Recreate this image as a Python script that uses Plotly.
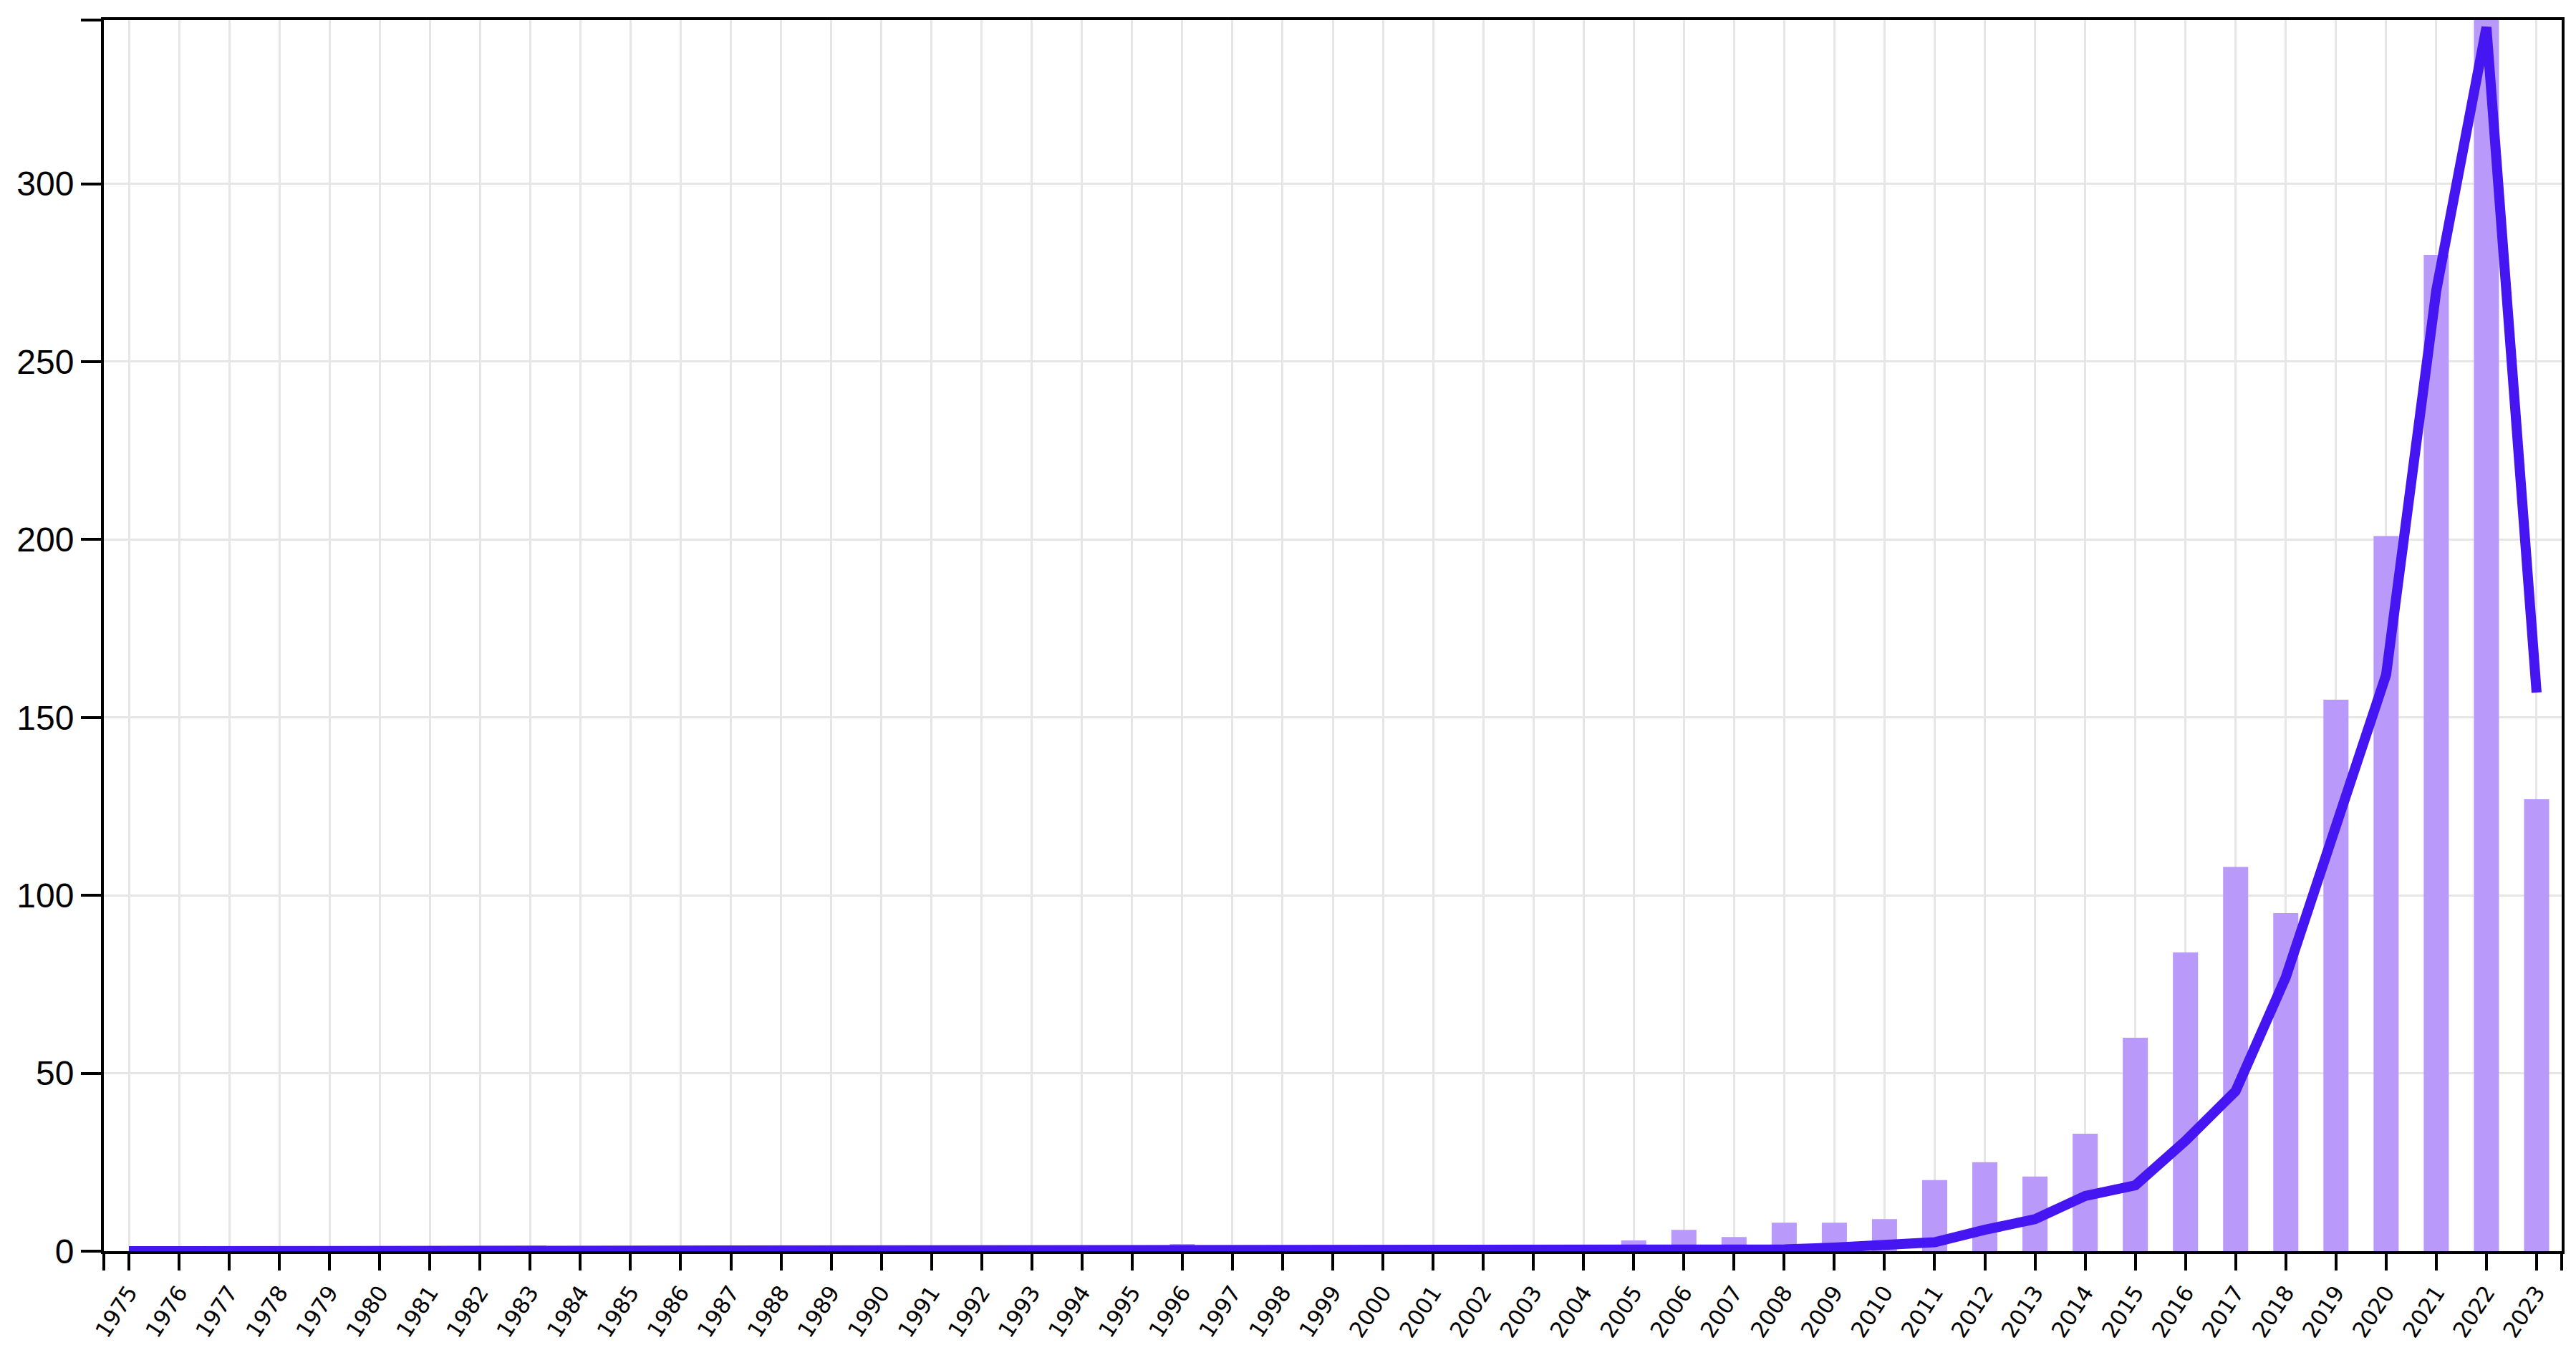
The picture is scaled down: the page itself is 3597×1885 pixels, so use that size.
import plotly.graph_objects as go

years = list(range(1975, 2024))

# publications per year (bars)
bar_counts = [0] * 21 + [2] + [0] * 8 + [3, 6, 4, 8, 8, 9, 20, 25, 21, 33, 60, 84,
                                         108, 95, 155, 201, 280, 346, 127]

# trend line
trend = [0] * 25 + [0.4] + [0] * 4 + [0.2, 0.3, 0.2, 0.5, 1.0, 1.4, 2.5, 6, 9, 15.5,
                                      18.5, 31, 45, 77, 120, 162, 270, 344, 157]

y_ticks = [0, 50, 100, 150, 200, 250, 300]
y_max = 346

BAR_COLOR = "#b99afb"
LINE_COLOR = "#4516f2"
GRID = "#e6e6e6"

fig = go.Figure()
fig.add_trace(go.Bar(x=years, y=bar_counts, width=0.5, marker=dict(color=BAR_COLOR, line=dict(width=0)),
                     showlegend=False))
fig.add_trace(go.Scatter(x=years, y=trend, mode="lines", line=dict(color=LINE_COLOR, width=14),
                         showlegend=False))

x_tickvals = [years[0] - 0.5] + years + [years[-1] + 0.5]
x_ticktext = [""] + [str(y) for y in years] + [""]

fig.update_xaxes(range=[years[0] - 0.5, years[-1] + 0.5], tickmode="array",
                 tickvals=x_tickvals, ticktext=x_ticktext, tickangle=-57,
                 tickfont=dict(family="DejaVu Sans", size=31, color="black"),
                 ticks="outside", ticklen=23, tickwidth=4, tickcolor="black",
                 showline=True, linewidth=4, linecolor="black", mirror=True,
                 showgrid=True, gridcolor=GRID, gridwidth=3, zeroline=False,
                 layer="below traces", automargin=False)

fig.update_yaxes(range=[0, y_max], tickmode="array",
                 tickvals=y_ticks + [y_max], ticktext=[str(v) for v in y_ticks] + [""],
                 tickfont=dict(family="Liberation Sans, Arial", size=48, color="black"),
                 ticks="outside", ticklen=28, tickwidth=4, tickcolor="black",
                 showline=True, linewidth=4, linecolor="black", mirror=True,
                 showgrid=True, gridcolor=GRID, gridwidth=3, zeroline=False,
                 automargin=False)

fig.update_layout(width=3597, height=1885,
                  margin={"l": 137, "r": 28, "t": 20, "b": 146},
                  paper_bgcolor="white", plot_bgcolor="white",
                  barmode="overlay")

fig.write_html("out.html")
